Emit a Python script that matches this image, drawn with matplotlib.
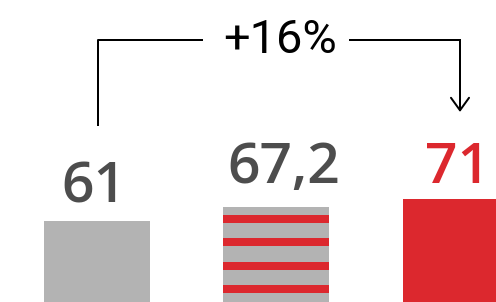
import matplotlib
matplotlib.use('Agg')
import matplotlib.pyplot as plt
import numpy as np
from matplotlib.lines import Line2D

categories = ['A', 'B', 'C']
values = [61, 67.2, 71]
labels = ['61', '67,2', '71']
change_label = '+16%'

GRAY = '#b3b3b3'
RED = '#dc282e'
DARK = '#4d4d4d'
DPI = 100
W, H = 496, 302
PT = 72 / DPI  # points per pixel
YLIM = (23.16, 164.08)
PX_PER_UNIT = H / (YLIM[1] - YLIM[0])

fig = plt.figure(figsize=(W / DPI, H / DPI), dpi=DPI)
ax = fig.add_axes([0, 0, 1, 1])
ax.set_xlim(-0.540, 2.223)
ax.set_ylim(*YLIM)
ax.axis('off')

x = list(range(len(values)))
bars = ax.bar(x, values, width=0.59, color=[GRAY, GRAY, RED], linewidth=0)

# horizontal red stripes on the middle bar (pattern: 8px offset, 8px stripe, 23px period)
b = bars[1]
n_px = int(round((b.get_height() - YLIM[0]) * PX_PER_UNIT))
rows = np.arange(n_px)
is_red = (rows >= 8) & (((rows - 8) % 23) < 8)
gray_rgb = np.array(matplotlib.colors.to_rgb(GRAY))
red_rgb = np.array(matplotlib.colors.to_rgb(RED))
img = np.where(is_red[:, None, None], red_rgb[None, None, :], gray_rgb[None, None, :])
img = np.repeat(img, 2, axis=1)
ax.imshow(img, extent=(b.get_x(), b.get_x() + b.get_width(), YLIM[0], b.get_height()),
          aspect='auto', interpolation='nearest', clip_path=b, zorder=3)
ax.set_xlim(-0.540, 2.223)
ax.set_ylim(*YLIM)

label_colors = [DARK, DARK, RED]
dx = [-3, 7, 2]
dy = [18, 25, 16]
for i, (v, lbl) in enumerate(zip(values, labels)):
    ax.annotate(lbl, (i, v), xytext=(dx[i] * PT, dy[i] * PT), textcoords='offset points',
                ha='center', va='baseline', fontsize=57 * PT, color=label_colors[i],
                fontweight='semibold', family=['Open Sans', 'DejaVu Sans'])

def fx(px):
    return px / W

def fy(py):
    return 1 - py / H

lw = 2 * PT
fig.add_artist(Line2D([fx(97.5), fx(97.5), fx(202)], [fy(125), fy(40), fy(40)],
                      transform=fig.transFigure, color='black', lw=lw))
fig.add_artist(Line2D([fx(350), fx(460)], [fy(40), fy(40)],
                      transform=fig.transFigure, color='black', lw=lw))
ax.annotate('', xy=(fx(460), fy(112)), xytext=(fx(460), fy(40)),
            xycoords='figure fraction', textcoords='figure fraction',
            arrowprops=dict(arrowstyle='->,head_length=0.9,head_width=0.65',
                            mutation_scale=10, color='black', lw=lw,
                            shrinkA=0, shrinkB=0))
fig.text(fx(280.5), fy(53), change_label, ha='center', va='baseline',
         fontsize=47 * PT, color='black',
         family=['Roboto', 'DejaVu Sans'])

fig.savefig('out.png', dpi=DPI)
